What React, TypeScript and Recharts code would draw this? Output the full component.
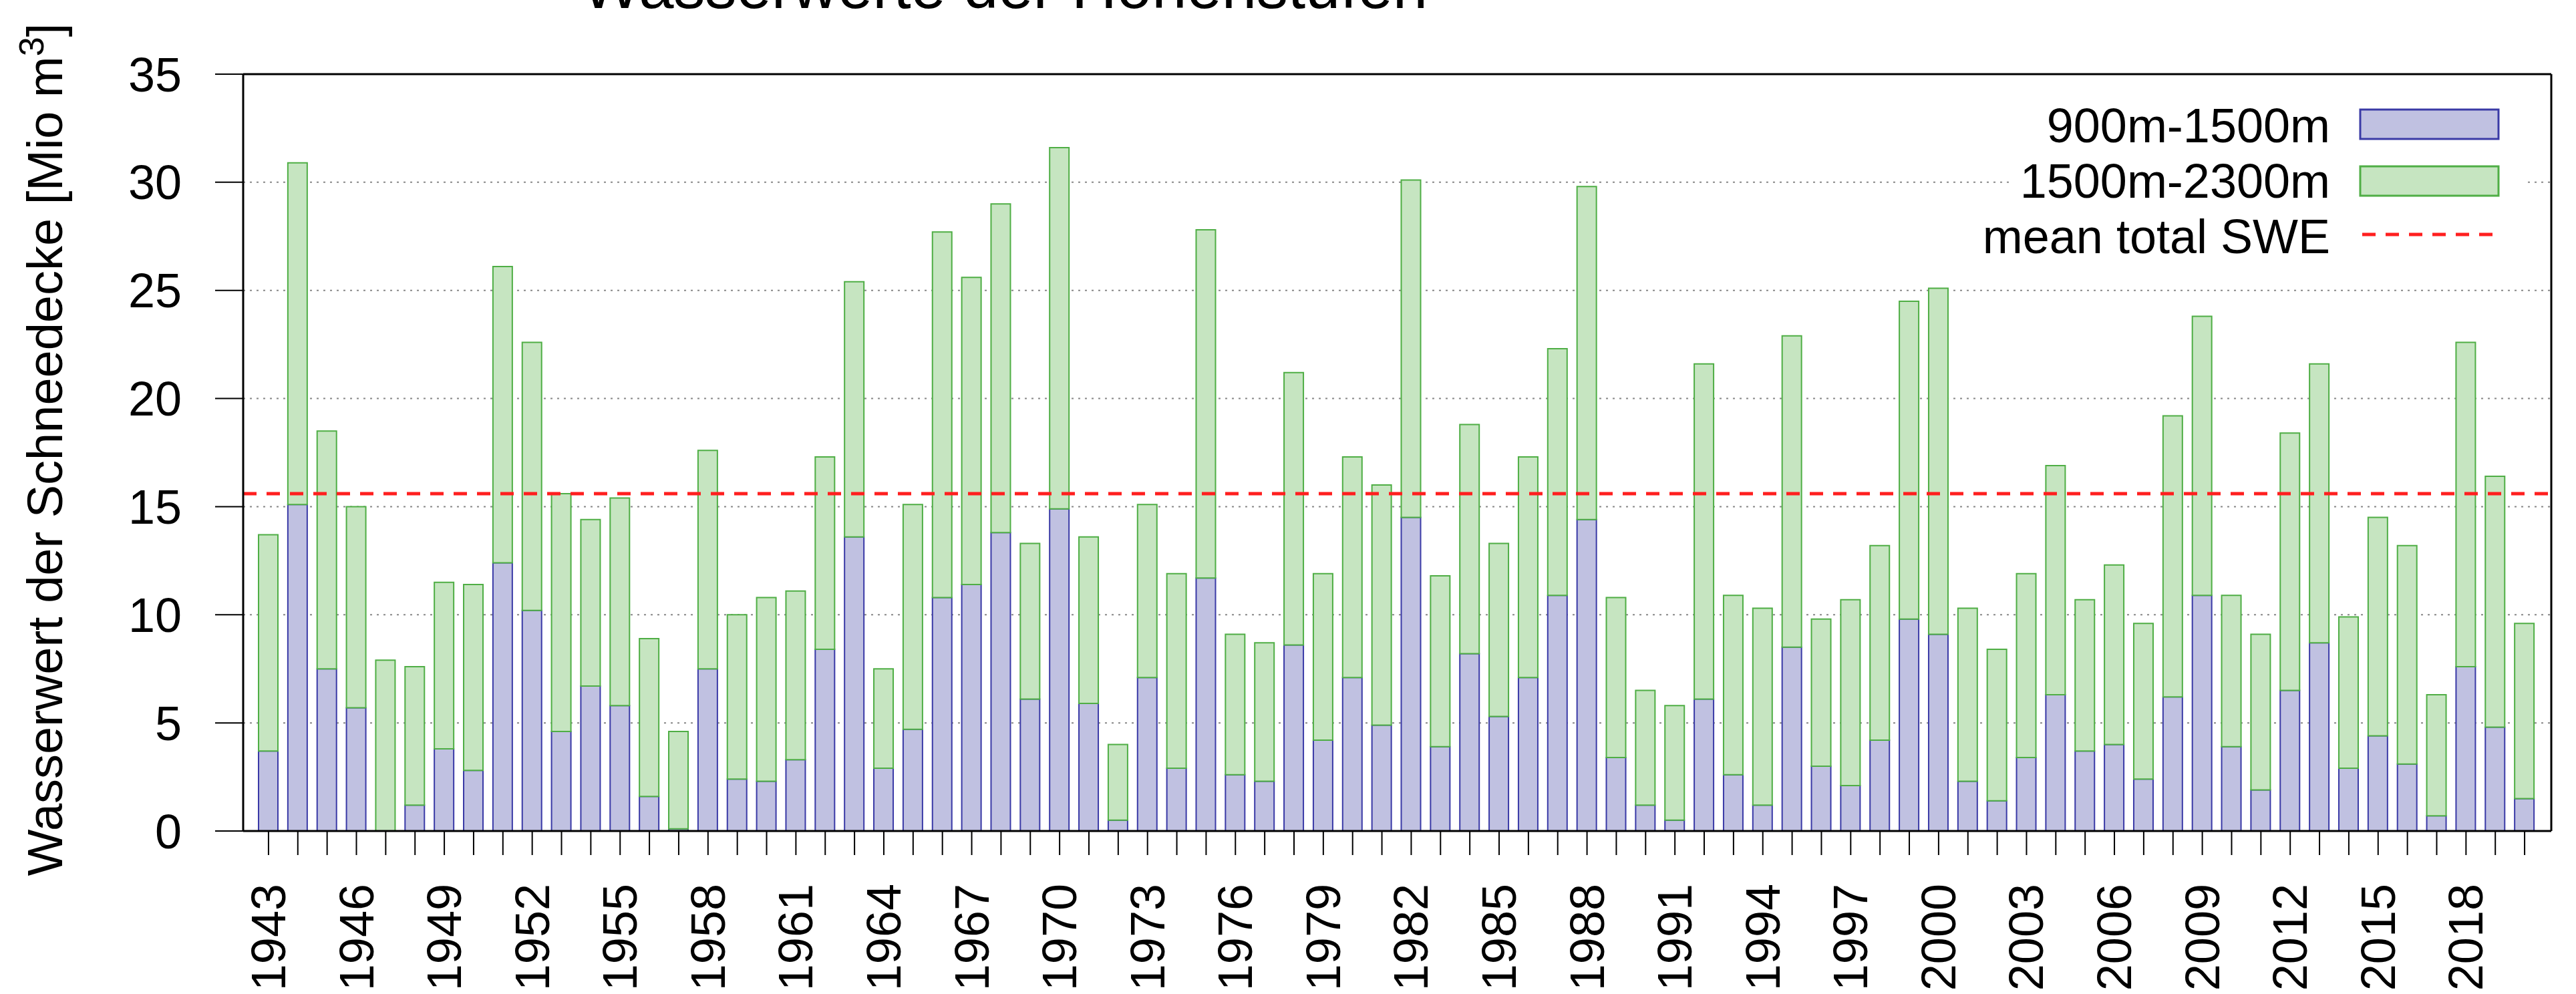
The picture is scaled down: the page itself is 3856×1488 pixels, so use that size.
import React from 'react';
import { BarChart, Bar, XAxis, YAxis, CartesianGrid, ReferenceLine } from 'recharts';

const years = [
  '1943', '1944', '1945', '1946', '1947', '1948', '1949', '1950', '1951', '1952',
  '1953', '1954', '1955', '1956', '1957', '1958', '1959', '1960', '1961', '1962',
  '1963', '1964', '1965', '1966', '1967', '1968', '1969', '1970', '1971', '1972',
  '1973', '1974', '1975', '1976', '1977', '1978', '1979', '1980', '1981', '1982',
  '1983', '1984', '1985', '1986', '1987', '1988', '1989', '1990', '1991', '1992',
  '1993', '1994', '1995', '1996', '1997', '1998', '1999', '2000', '2001', '2002',
  '2003', '2004', '2005', '2006', '2007', '2008', '2009', '2010', '2011', '2012',
  '2013', '2014', '2015', '2016', '2017', '2018', '2019', '2020',
];

// 900m-1500m
const lower = [
  3.7, 15.1, 7.5, 5.7, 0, 1.2, 3.8, 2.8, 12.4, 10.2,
  4.6, 6.7, 5.8, 1.6, 0.1, 7.5, 2.4, 2.3, 3.3, 8.4,
  13.6, 2.9, 4.7, 10.8, 11.4, 13.8, 6.1, 14.9, 5.9, 0.5,
  7.1, 2.9, 11.7, 2.6, 2.3, 8.6, 4.2, 7.1, 4.9, 14.5,
  3.9, 8.2, 5.3, 7.1, 10.9, 14.4, 3.4, 1.2, 0.5, 6.1,
  2.6, 1.2, 8.5, 3.0, 2.1, 4.2, 9.8, 9.1, 2.3, 1.4,
  3.4, 6.3, 3.7, 4.0, 2.4, 6.2, 10.9, 3.9, 1.9, 6.5,
  8.7, 2.9, 4.4, 3.1, 0.7, 7.6, 4.8, 1.5,
];

// 1500m-2300m
const upper = [
  10.0, 15.8, 11.0, 9.3, 7.9, 6.4, 7.7, 8.6, 13.7, 12.4,
  11.0, 7.7, 9.6, 7.3, 4.5, 10.1, 7.6, 8.5, 7.8, 8.9,
  11.8, 4.6, 10.4, 16.9, 14.2, 15.2, 7.2, 16.7, 7.7, 3.5,
  8.0, 9.0, 16.1, 6.5, 6.4, 12.6, 7.7, 10.2, 11.1, 15.6,
  7.9, 10.6, 8.0, 10.2, 11.4, 15.4, 7.4, 5.3, 5.3, 15.5,
  8.3, 9.1, 14.4, 6.8, 8.6, 9.0, 14.7, 16.0, 8.0, 7.0,
  8.5, 10.6, 7.0, 8.3, 7.2, 13.0, 12.9, 7.0, 7.2, 11.9,
  12.9, 7.0, 10.1, 10.1, 5.6, 15.0, 11.6, 8.1,
];

const tickLabels = [
  '1943', '1946', '1949', '1952', '1955', '1958', '1961', '1964', '1967',
  '1970', '1973', '1976', '1979', '1982', '1985', '1988', '1991', '1994',
  '1997', '2000', '2003', '2006', '2009', '2012', '2015', '2018',
];
const yTicks = [0, 5, 10, 15, 20, 25, 30, 35];
const meanSWE = 15.6;
const seriesNames = ['900m-1500m', '1500m-2300m', 'mean total SWE'];
const title = 'Wasserwerte der Höhenstufen';

const data = years.map((year, i) => ({ year, lower: lower[i], upper: upper[i] }));

const FONT = '"Liberation Sans", Arial, sans-serif';
const BLUE_FILL = '#c0c1e1';
const BLUE_LINE = '#3a3aa6';
const GREEN_FILL = '#c6e5c1';
const GREEN_LINE = '#4fae45';
const RED = '#ff1f1f';

const YearTick = (props: any) => {
  const { x, y, payload } = props;
  if (!tickLabels.includes(payload.value)) return <g />;
  return (
    <text
      x={x}
      y={y}
      transform={`rotate(-90, ${x}, ${y})`}
      textAnchor="end"
      dominantBaseline="central"
      fontSize={72}
      fontFamily={FONT}
      fill="#000"
    >
      {payload.value}
    </text>
  );
};

export default function App() {
  return (
    <div style={{ position: 'absolute', left: 0, top: 0, width: 3856, height: 1488, background: '#fff' }}>
      <BarChart
        width={3856}
        height={1488}
        data={data}
        margin={{ top: 111, right: 0, bottom: 0, left: 0 }}
        barSize={29}
      >
        <CartesianGrid vertical={false} stroke="#888" strokeWidth={2} strokeDasharray="3 7" />
        <XAxis
          dataKey="year"
          interval={0}
          height={244}
          padding={{ left: 16, right: 18 }}
          tickSize={36}
          tickMargin={43}
          tick={<YearTick />}
          axisLine={{ stroke: '#000', strokeWidth: 3 }}
          tickLine={{ stroke: '#000', strokeWidth: 2 }}
        />
        <YAxis
          domain={[0, 35]}
          ticks={yTicks}
          width={364}
          tickSize={42}
          tickMargin={50}
          tick={{ fontSize: 72, fill: '#000', fontFamily: FONT }}
          axisLine={{ stroke: '#000', strokeWidth: 3 }}
          tickLine={{ stroke: '#000', strokeWidth: 2 }}
        />
        <YAxis
          yAxisId="right"
          orientation="right"
          domain={[0, 35]}
          ticks={yTicks}
          width={37}
          tickSize={37}
          tick={false}
          axisLine={{ stroke: '#000', strokeWidth: 3 }}
          tickLine={{ stroke: '#000', strokeWidth: 2 }}
        />
        <Bar dataKey="lower" name={seriesNames[0]} stackId="swe" fill={BLUE_FILL} stroke={BLUE_LINE} strokeWidth={2} isAnimationActive={false} />
        <Bar dataKey="upper" name={seriesNames[1]} stackId="swe" fill={GREEN_FILL} stroke={GREEN_LINE} strokeWidth={2} isAnimationActive={false} />
        <ReferenceLine y={35} stroke="#000" strokeWidth={3} />
        <ReferenceLine y={meanSWE} stroke={RED} strokeWidth={5} strokeDasharray="20 15" />
      </BarChart>

      <svg
        width={3856}
        height={1488}
        style={{ position: 'absolute', left: 0, top: 0, pointerEvents: 'none' }}
        fontFamily={FONT}
      >
        <text x={1504} y={12} textAnchor="middle" fontSize={94} fill="#000">{title}</text>
        <text x={93} y={673} transform="rotate(-90, 93, 673)" textAnchor="middle" fontSize={74} fill="#000">
          Wasserwert der Schneedecke [Mio m<tspan dy={-28} fontSize={52}>3</tspan><tspan dy={28}>]</tspan>
        </text>

        {/* legend */}
        <rect x={3010} y={140} width={770} height={262} fill="#fff" />
        <text x={3488} y={213} textAnchor="end" fontSize={72} fill="#000">{seriesNames[0]}</text>
        <rect x={3533} y={164} width={207} height={44} fill={BLUE_FILL} stroke={BLUE_LINE} strokeWidth={3} />
        <text x={3488} y={296} textAnchor="end" fontSize={72} fill="#000">{seriesNames[1]}</text>
        <rect x={3533} y={249} width={207} height={44} fill={GREEN_FILL} stroke={GREEN_LINE} strokeWidth={3} />
        <text x={3488} y={379} textAnchor="end" fontSize={72} fill="#000">{seriesNames[2]}</text>
        <line x1={3536} x2={3732} y1={351} y2={351} stroke={RED} strokeWidth={5} strokeDasharray="20 15" />
      </svg>
    </div>
  );
}
